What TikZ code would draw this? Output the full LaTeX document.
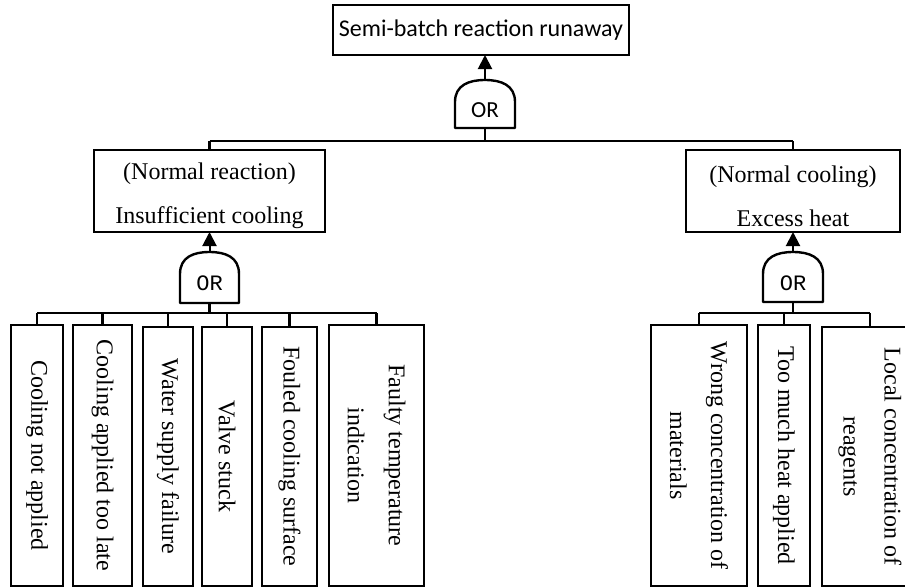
\documentclass[tikz,border=0pt]{standalone}
\usepackage{fontspec}
\setmainfont{Liberation Serif}
\newfontfamily\calib{Carlito}
\newfontfamily\monof{Liberation Mono}
\usetikzlibrary{arrows.meta,calc}
\begin{document}
\begin{tikzpicture}[x=1pt,y=-1pt,
  box/.style={draw,line width=2.4pt,inner sep=0pt,outer sep=0pt,align=center},
  midbox/.style={box},
  midtext/.style={align=center,font=\fontsize{24}{44}\selectfont,yshift=-5pt},
  leafbox/.style={draw,line width=1.2pt,inner sep=0pt,outer sep=0pt,align=center,rotate=-90,font=\fontsize{24}{41}\selectfont},
  gatebox/.style={inner sep=0pt,outer sep=0pt},
  gateline/.style={line width=2.4pt,line join=round},
  bus/.style={line width=2.4pt},
  arr/.style={line width=2pt,-{Triangle[length=14pt,width=14pt]}}]
\clip (0,0) rectangle (905,587);
% top event
\node[box,minimum width=296pt,minimum height=50pt,font=\calib\fontsize{24}{29}\selectfont] (top) at (481,30) {Semi-batch reaction runaway};
% gates
\node[gatebox,minimum width=60pt,minimum height=48pt,label={[font=\calib\fontsize{23}{26}\selectfont,yshift=-6pt]center:OR}] (g1) at (485,104) {};
\node[gatebox,minimum width=59pt,minimum height=51pt,label={[font=\monof\fontsize{22}{26}\selectfont,yshift=-5.5pt]center:OR}] (g2) at (209.5,277.5) {};
\node[gatebox,minimum width=60pt,minimum height=50pt,label={[font=\monof\fontsize{22}{26}\selectfont,yshift=-6pt]center:OR}] (g3) at (793,277) {};
\foreach \g in {g1,g2,g3}{
  \draw[gateline] (\g.south west) -- ($(\g.north west)+(0,22)$)
    .. controls ($(\g.north west)+(0,5)$) and ($(\g.north)+(-16,0)$) .. (\g.north)
    .. controls ($(\g.north)+(16,0)$) and ($(\g.north east)+(0,5)$) .. ($(\g.north east)+(0,22)$)
    -- (\g.south east) -- cycle;
}
% intermediate events
\node[midbox,minimum width=231pt,minimum height=82pt,label={[midtext]center:(Normal reaction)\\Insufficient cooling}] (m1) at (209.5,191) {};
\node[midbox,minimum width=214pt,minimum height=82pt,label={[midtext]center:(Normal cooling)\\Excess heat}] (m2) at (793,191) {};
% leaves left
\node[leafbox,minimum width=261pt,minimum height=52pt] (l1) at (37,455.5) {Cooling not applied};
\node[leafbox,minimum width=261pt,minimum height=59pt] (l2) at (102.5,455.5) {Cooling applied too late};
\node[leafbox,minimum width=259pt,minimum height=50pt] (l3) at (168,456.5) {Water supply failure};
\node[leafbox,minimum width=259pt,minimum height=50pt] (l4) at (227,456.5) {Valve stuck};
\node[leafbox,minimum width=259pt,minimum height=55pt] (l5) at (289.5,456.5) {Fouled cooling surface};
\node[leafbox,minimum width=261pt,minimum height=95pt] (l6) at (376.5,455.5) {Faulty temperature\\indication};
% leaves right
\node[leafbox,minimum width=261pt,minimum height=96pt] (r1) at (699,455.5) {Wrong concentration of\\materials};
\node[leafbox,minimum width=261pt,minimum height=52pt] (r2) at (784,455.5) {Too much heat applied};
\node[leafbox,minimum width=259pt,minimum height=96pt] (r3) at (870,456.5) {Local concentration of\\reagents};
% arrows
\draw[arr] (g1.north) -- (g1.north |- top.south);
\draw[arr] (g2.north) -- (m1.south);
\draw[arr] (g3.north) -- (m2.south);
% top bus
\coordinate (b1) at (485,141);
\draw[bus] (g1.south) -- (b1);
\draw[bus] (m1.north |- b1) -- (m2.north |- b1);
\draw[bus] (m1.north |- b1) -- (m1.north);
\draw[bus] (m2.north |- b1) -- (m2.north);
% left bus
\coordinate (b2) at (209.5,313);
\draw[bus] (g2.south) -- (b2);
\draw[bus] (l1.west |- b2) -- (l6.west |- b2);
\foreach \n in {l1,l2,l3,l4,l5,l6} \draw[bus] (\n.west |- b2) -- (\n.west);
% right bus
\coordinate (b3) at (793,313);
\draw[bus] (g3.south) -- (b3);
\draw[bus] (r1.west |- b3) -- (r3.west |- b3);
\foreach \n in {r1,r2,r3} \draw[bus] (\n.west |- b3) -- (\n.west);
\end{tikzpicture}
\end{document}
